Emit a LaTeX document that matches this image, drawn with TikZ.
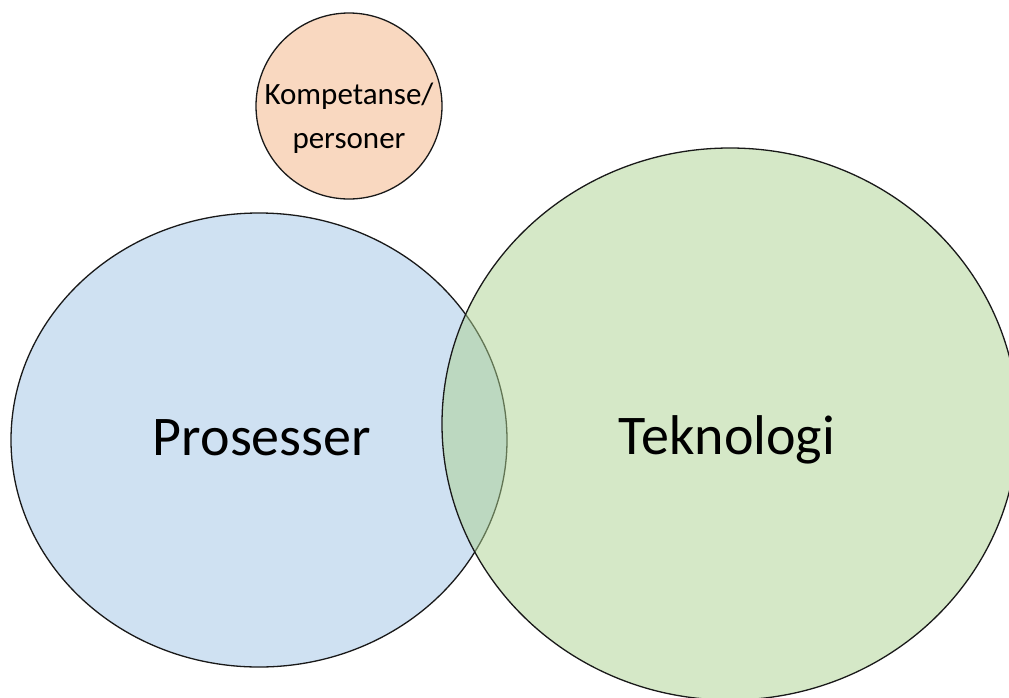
\documentclass[tikz,border=0pt]{standalone}
\usepackage{fontspec}
\setmainfont{Carlito}
\usetikzlibrary{shapes.geometric}
\definecolor{procblue}{RGB}{207,225,242}
\definecolor{techgreen}{RGB}{171,209,143}
\definecolor{peach}{RGB}{249,216,192}
\definecolor{rim}{RGB}{25,25,25}
\tikzset{
  blob/.style={ellipse, draw=rim, line width=1.3pt, inner sep=0pt},
  biglabel/.style={anchor=base, inner sep=0pt, font=\fontsize{56}{62}\selectfont},
  smalllabel/.style={align=center, inner sep=0pt, font=\fontsize{31}{44}\selectfont}
}
\begin{document}
\begin{tikzpicture}[x=1pt, y=-1pt]
  \useasboundingbox (0,0) rectangle (1009,697);
  \begin{scope}
    \clip (0,0) rectangle (1009,697);
    % processes
    \node[blob, fill=procblue, minimum width=496pt, minimum height=454pt] (proc) at (259,440) {};
    % technology, half transparent so the overlap shows
    \node[blob, fill=techgreen, fill opacity=0.5, minimum width=576pt, minimum height=552pt] (tech) at (730,424) {};
    % competence / people
    \node[blob, fill=peach, minimum width=186pt, minimum height=186pt] (komp) at (349,106) {};
  \end{scope}
  \node[biglabel] (proclabel) at (262,455) {Prosesser};
  \node[biglabel] (techlabel) at (727,454) {Teknologi};
  \node[smalllabel, anchor=base] (komplabel) at (349,148) {Kompetanse/\\personer};
\end{tikzpicture}
\end{document}
